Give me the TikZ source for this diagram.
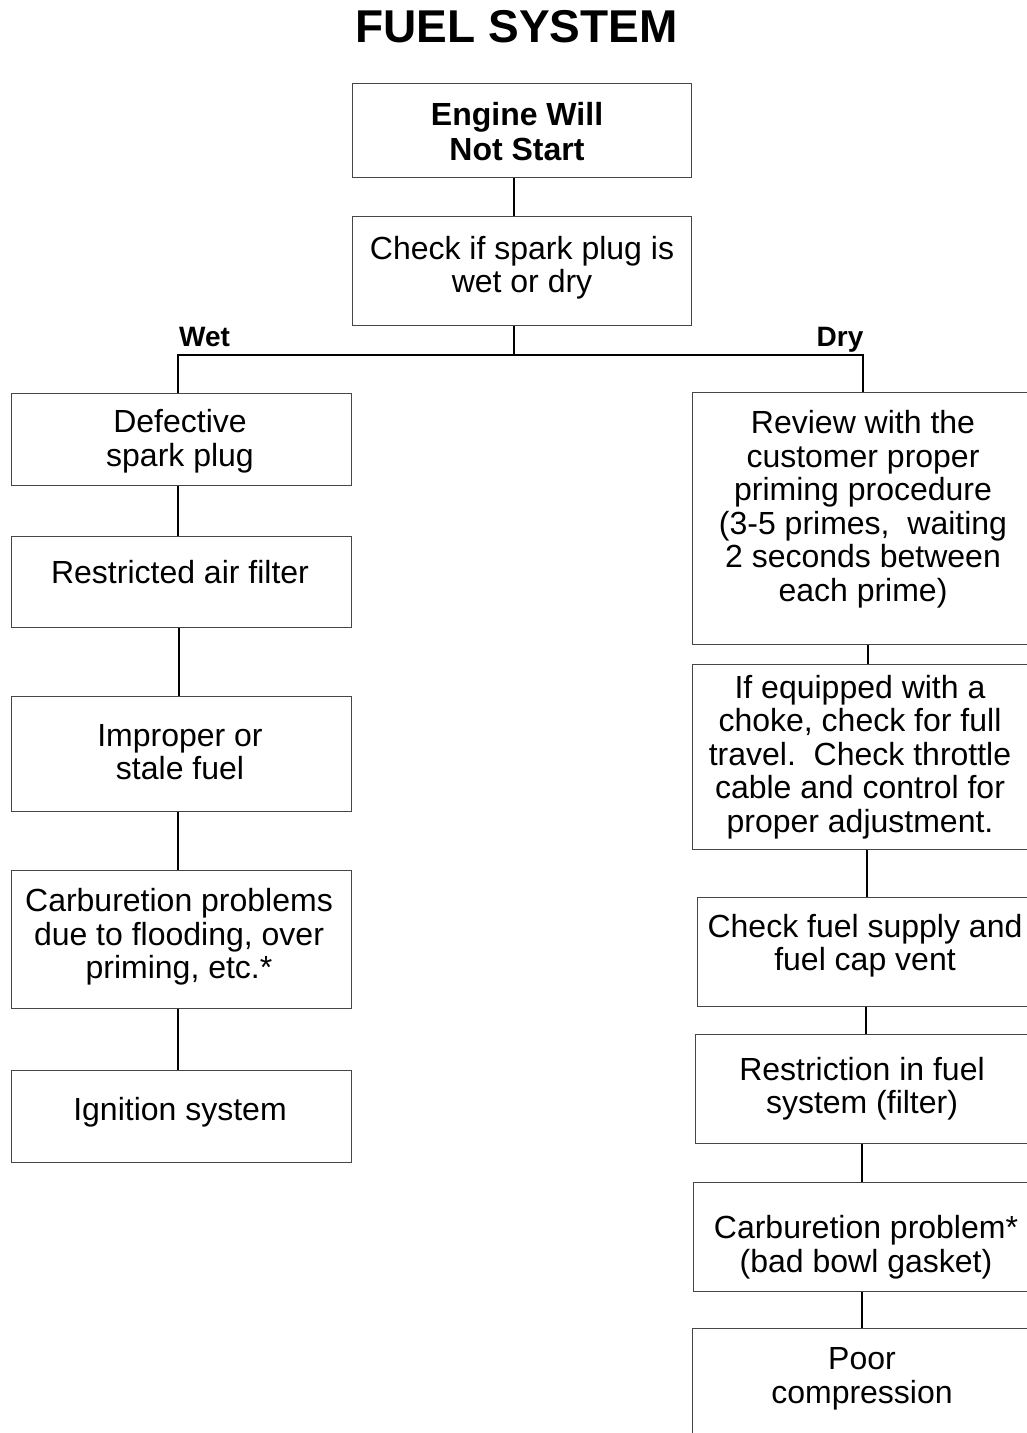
\documentclass[tikz,border=0pt]{standalone}
\usepackage{fontspec}
\setmainfont{Liberation Sans}
\definecolor{boxgray}{RGB}{70,70,70}
\tikzset{
  box/.style={draw=boxgray, line width=1.3pt, rectangle, inner sep=0pt, anchor=north west},
  txt/.style={font=\fontsize{32}{33.5}\selectfont, align=center, inner sep=0pt, anchor=center},
  lbl/.style={font=\fontsize{28}{30}\selectfont\bfseries, inner sep=0pt, anchor=center},
  conn/.style={line width=2pt, black}
}
\begin{document}
\begin{tikzpicture}[x=1pt,y=-1pt]
\useasboundingbox (0,0) rectangle (1027,1433);
\fill[white] (0,0) rectangle (1027,1433);
\clip (0,0) rectangle (1027,1433);

% title
\node[inner sep=0pt, font=\fontsize{46}{50}\selectfont\bfseries] (title) at (516.5,27) {FUEL SYSTEM};

% boxes
\node[box, minimum width=339pt, minimum height=94pt] (b1) at (352,83) {};
\node[box, minimum width=339pt, minimum height=109pt] (b2) at (352,216) {};

\node[box, minimum width=340pt, minimum height=92pt] (l1) at (11,393) {};
\node[box, minimum width=340pt, minimum height=91pt] (l2) at (11,536) {};
\node[box, minimum width=340pt, minimum height=115pt] (l3) at (11,696) {};
\node[box, minimum width=340pt, minimum height=138pt] (l4) at (11,870) {};
\node[box, minimum width=340pt, minimum height=92pt] (l5) at (11,1070) {};

\node[box, minimum width=348pt, minimum height=252pt] (r1) at (692,392) {};
\node[box, minimum width=348pt, minimum height=185pt] (r2) at (692,664) {};
\node[box, minimum width=343pt, minimum height=109pt] (r3) at (697,897) {};
\node[box, minimum width=345pt, minimum height=109pt] (r4) at (695,1034) {};
\node[box, minimum width=347pt, minimum height=109pt] (r5) at (693,1182) {};
\node[box, minimum width=348pt, minimum height=130pt] (r6) at (692,1328) {};

% texts
\node[txt, font=\fontsize{32}{35}\selectfont\bfseries] (t1) at (517,132) {Engine Will\\Not Start};
\node[txt] (t2) at (522,267.5) {Check if spark plug is\\wet or dry};
\node[lbl] (wet) at (204.5,336.5) {Wet};
\node[lbl] (dry) at (840,340) {Dry};

\node[txt] (tl1) at (180,441) {Defective\\spark plug};
\node[txt] (tl2) at (180,572.5) {Restricted air filter};
\node[txt] (tl3) at (180,752) {Improper or\\stale fuel};
\node[txt] (tl4) at (179,937) {Carburetion problems\\due to flooding, over\\priming, etc.*};
\node[txt] (tl5) at (180,1112.5) {Ignition system};

\node[txt] (tr1) at (863,509) {Review with the\\customer proper\\priming procedure\\(3-5 primes,\ \ waiting\\2 seconds between\\each prime)};
\node[txt] (tr2) at (860,757) {If equipped with a\\choke, check for full\\travel.\ \ Check throttle\\cable and control for\\proper adjustment.};
\node[txt] (tr3) at (865,945.5) {Check fuel supply and\\fuel cap vent};
\node[txt] (tr4) at (862,1088.5) {Restriction in fuel\\system (filter)};
\node[txt] (tr5) at (866,1247) {Carburetion problem*\\(bad bowl gasket)};
\node[txt] (tr6) at (862,1379) {Poor\\compression};

% connectors
\coordinate (jn) at (514,355);
\coordinate (jw) at (178,355);
\coordinate (jd) at (863,355);
\draw[conn] (b1.south -| 514,0) -- (b2.north -| 514,0);
\draw[conn] (b2.south -| 514,0) -- (jn);
\draw[conn] (l1.north -| 178,0) -- (jw) -- (jd) -- (r1.north -| 863,0);

\draw[conn] (l1.south -| 178,0) -- (l2.north -| 178,0);
\draw[conn] (l2.south -| 179,0) -- (l3.north -| 179,0);
\draw[conn] (l3.south -| 178,0) -- (l4.north -| 178,0);
\draw[conn] (l4.south -| 178,0) -- (l5.north -| 178,0);

\draw[conn] (r1.south -| 868,0) -- (r2.north -| 868,0);
\draw[conn] (r2.south -| 867,0) -- (r3.north -| 867,0);
\draw[conn] (r3.south -| 866,0) -- (r4.north -| 866,0);
\draw[conn] (r4.south -| 862,0) -- (r5.north -| 862,0);
\draw[conn] (r5.south -| 862,0) -- (r6.north -| 862,0);
\end{tikzpicture}
\end{document}
